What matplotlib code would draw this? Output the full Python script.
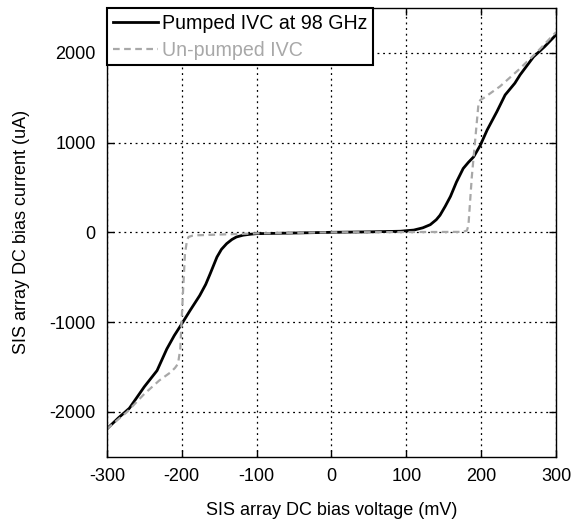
import matplotlib
matplotlib.use("Agg")
import matplotlib.pyplot as plt

# pumped IVC (black)
pumped_v = [-300, -285, -270, -250, -233, -220, -210, -200, -189, -176, -168, -162,
            -153, -147, -140, -133, -127, -118, -109, -100, -50, 0, 50, 92, 110, 122,
            132, 140, 145, 152, 159, 167, 176, 183, 190, 199, 208, 215, 221, 232,
            245, 252, 270, 285, 300]
pumped_i = [-2190, -2070, -1960, -1720, -1540, -1300, -1150, -1020, -872, -704, -580,
            -461, -276, -190, -126, -80, -52, -32, -22, -15, -8, 0, 5, 12, 25, 50,
            85, 140, 190, 290, 400, 560, 711, 780, 841, 972, 1140, 1250, 1344, 1530,
            1661, 1754, 1955, 2070, 2200]

# un-pumped IVC (grey dashed)
unpumped_v = [-300, -273, -250, -230, -215, -209, -205, -202, -200, -198, -195.7, -193,
              -191, -186, -180, -150, -100, 0, 100, 150, 176, 181, 183, 185, 187.5, 192,
              196.5, 199, 203, 225, 250, 275, 300]
unpumped_i = [-2190, -2000, -1800, -1650, -1560, -1510, -1464, -1300, -950, -611, -238, -90,
              -52, -38, -33, -25, -12, 0, 3, 4, 5, 20, 78, 320, 618, 1028,
              1438, 1475, 1494, 1624, 1810, 2011, 2230]

labels = ["Pumped IVC at 98 GHz", "Un-pumped IVC"]

plt.rcParams["font.family"] = ["Liberation Sans", "DejaVu Sans"]
plt.rcParams["font.size"] = 13
plt.rcParams["axes.unicode_minus"] = False

fig = plt.figure(figsize=(5.81, 5.25), dpi=100)
ax = fig.add_axes([0.184, 0.130, 0.773, 0.855])

ax.plot(pumped_v, pumped_i, "-", color="black", lw=2, label=labels[0])
ax.plot(unpumped_v, unpumped_i, "--", color="#a8a8a8", lw=1.6, dashes=(3, 2),
        label=labels[1])

ax.set_xlim(-300, 300)
ax.set_ylim(-2500, 2500)
ax.set_xticks([-300, -200, -100, 0, 100, 200, 300])
ax.set_yticks([-2000, -1000, 0, 1000, 2000])
ax.tick_params(direction="in", top=True, right=True, length=5, width=1, pad=8)
ax.grid(True, color="black", linestyle=(0, (1.5, 3)), lw=0.9)
for s in ax.spines.values():
    s.set_linewidth(1.0)

ax.set_xlabel("SIS array DC bias voltage (mV)", labelpad=12)
ax.set_ylabel("SIS array DC bias current (uA)", labelpad=14)

leg = ax.legend(loc="upper left", borderaxespad=0, fancybox=False, framealpha=1,
                edgecolor="black", handlelength=2.3, handletextpad=0.2,
                borderpad=0.3, labelspacing=0.4, fontsize=14.1)
leg.get_frame().set_linewidth(1.5)
leg.get_texts()[1].set_color("#a8a8a8")

fig.savefig("out.png", dpi=100)
